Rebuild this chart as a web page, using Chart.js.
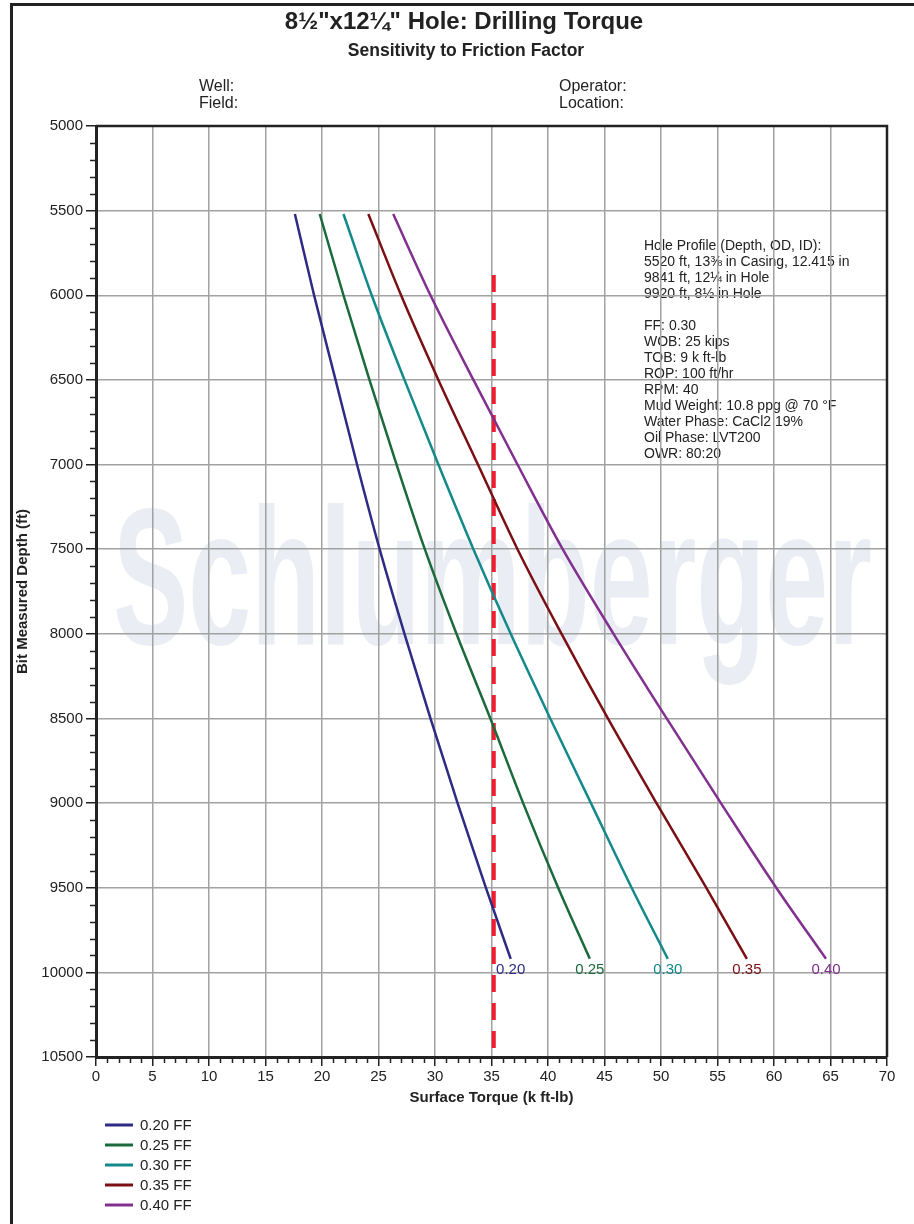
<!DOCTYPE html>
<html>
<head>
<meta charset="utf-8">
<title>8½"x12¼" Hole: Drilling Torque</title>
<script src="https://cdn.jsdelivr.net/npm/chart.js@4.4.1/dist/chart.umd.min.js"></script>
<style>
  html, body { margin: 0; padding: 0; background: #ffffff; }
  canvas { display: block; }
</style>
</head>
<body>
<canvas id="torqueChart" width="914" height="1224"></canvas>
<script>
// ---- Data: surface torque (k ft-lb) vs bit measured depth (ft) per friction factor ----
const depthFt      = [5520, 6000, 6500, 7000, 7500, 8000, 8500, 9000, 9500, 9920];
const torqueFF020  = [17.6, 19.3, 21.2, 23.1, 25.1, 27.3, 29.6, 32.0, 34.5, 36.7];
const torqueFF025  = [19.8, 21.9, 24.2, 26.6, 29.1, 31.9, 34.9, 37.8, 40.9, 43.7];
const torqueFF030  = [21.9, 24.4, 27.3, 30.3, 33.4, 36.7, 40.2, 43.8, 47.4, 50.6];
const torqueFF035  = [24.1, 27.0, 30.3, 33.8, 37.3, 41.2, 45.3, 49.6, 54.0, 57.6];
const torqueFF040  = [26.3, 29.6, 33.4, 37.3, 41.3, 45.8, 50.5, 55.3, 60.2, 64.6];

const frictionFactors = ['0.20', '0.25', '0.30', '0.35', '0.40'];
const seriesLabels    = ['0.20 FF', '0.25 FF', '0.30 FF', '0.35 FF', '0.40 FF'];

// Torque limit line (k ft-lb) and the depth range it covers (ft)
const torqueLimit      = 35.2;
const torqueLimitDepth = [5880, 10500];

// Axis ranges
const xRange = [0, 70];
const yRange = [5000, 10500];

// Text blocks
const titleText    = '8½"x12¼" Hole: Drilling Torque';
const subtitleText = 'Sensitivity to Friction Factor';
const headerLeft   = ['Well:', 'Field:'];
const headerRight  = ['Operator:', 'Location:'];
const notesText = [
  'Hole Profile (Depth, OD, ID):',
  '5520 ft, 13⅜ in Casing, 12.415 in',
  '9841 ft, 12¼ in Hole',
  '9920 ft, 8½ in Hole',
  '',
  'FF: 0.30',
  'WOB: 25 kips',
  'TOB: 9 k ft-lb',
  'ROP: 100 ft/hr',
  'RPM: 40',
  'Mud Weight: 10.8 ppg @ 70 °F',
  'Water Phase: CaCl2 19%',
  'Oil Phase: LVT200',
  'OWR: 80:20'
];
const watermarkText = 'Schlumberger';

// ---- Styles ----
const FONT = '"Liberation Sans", Arial, Helvetica, sans-serif';
const INK = '#222222';
const GRID = '#a2a2a2';
const seriesColors = ['#2d2b84', '#1b6a3b', '#13898b', '#7a1014', '#82308f'];
const limitColor = '#ee1d2f';

const torqueSeries = [torqueFF020, torqueFF025, torqueFF030, torqueFF035, torqueFF040];

const datasets = torqueSeries.map((vals, i) => ({
  label: seriesLabels[i],
  tag: frictionFactors[i],
  data: vals.map((t, k) => ({ x: t, y: depthFt[k] })),
  borderColor: seriesColors[i],
  backgroundColor: seriesColors[i],
  borderWidth: 2.5,
  pointRadius: 0,
  cubicInterpolationMode: 'monotone',
  fill: false
}));

datasets.push({
  label: '',
  isLimit: true,
  data: torqueLimitDepth.map(d => ({ x: torqueLimit, y: d })),
  borderColor: limitColor,
  borderWidth: 4,
  borderDash: [17, 11],
  pointRadius: 0,
  fill: false
});

// ---- Drawing helpers (page furniture, watermark, legend, minor ticks) ----
const pagePlugin = {
  id: 'pageDecor',
  beforeDraw(chart) {
    const { ctx } = chart;
    ctx.save();

    // Watermark behind the grid
    ctx.font = `bold 194px ${FONT}`;
    ctx.textBaseline = 'alphabetic';
    ctx.textAlign = 'left';
    const wm = ctx.measureText(watermarkText).width;
    ctx.translate(113, 644);
    ctx.scale(759 / wm, 1);
    ctx.fillStyle = '#eaedf3';
    ctx.fillText(watermarkText, 0, 0);
    ctx.restore();

    ctx.save();
    ctx.fillStyle = INK;
    ctx.textAlign = 'center';
    ctx.textBaseline = 'middle';
    ctx.font = `bold 24px ${FONT}`;
    ctx.fillText(titleText, 464, 22);
    ctx.font = `bold 17.5px ${FONT}`;
    ctx.fillText(subtitleText, 466, 51);

    ctx.textAlign = 'left';
    ctx.font = `16px ${FONT}`;
    headerLeft.forEach((t, i) => ctx.fillText(t, 199, 87 + i * 17));
    headerRight.forEach((t, i) => ctx.fillText(t, 559, 87 + i * 17));

    // Well / fluid notes inside the plot
    ctx.font = `14px ${FONT}`;
    notesText.forEach((t, i) => { if (t) ctx.fillText(t, 644, 246 + i * 16); });
    ctx.restore();
  },
  afterDatasetsDraw(chart) {
    const { ctx } = chart;
    ctx.save();
    ctx.font = `15px ${FONT}`;
    ctx.textAlign = 'center';
    ctx.textBaseline = 'top';
    chart.data.datasets.forEach((ds, i) => {
      if (ds.isLimit) return;
      const pts = chart.getDatasetMeta(i).data;
      const end = pts[pts.length - 1];
      ctx.fillStyle = ds.borderColor;
      ctx.fillText(ds.tag, end.x, end.y + 4);
    });
    ctx.restore();
  },
  afterDraw(chart) {
    const { ctx, chartArea: a, scales } = chart;
    ctx.save();

    // Plot frame (top and right edges)
    ctx.strokeStyle = INK;
    ctx.lineWidth = 2.5;
    ctx.beginPath();
    ctx.moveTo(a.left, a.top);
    ctx.lineTo(a.right, a.top);
    ctx.lineTo(a.right, a.bottom);
    ctx.stroke();

    // Minor tick marks
    ctx.lineWidth = 1.5;
    ctx.beginPath();
    for (let d = yRange[0]; d <= yRange[1]; d += 100) {
      if (d % 500 === 0) continue;
      const y = Math.round(scales.y.getPixelForValue(d)) + 0.5;
      ctx.moveTo(a.left - 6, y);
      ctx.lineTo(a.left, y);
    }
    for (let t = xRange[0]; t <= xRange[1]; t += 1) {
      if (t % 5 === 0) continue;
      const x = Math.round(scales.x.getPixelForValue(t)) + 0.5;
      ctx.moveTo(x, a.bottom);
      ctx.lineTo(x, a.bottom + 6);
    }
    ctx.stroke();

    // Page frame
    ctx.fillStyle = INK;
    ctx.fillRect(10, 3, 3, chart.height - 3);
    ctx.fillRect(10, 3, chart.width - 10, 3);

    // Legend
    ctx.font = `15px ${FONT}`;
    ctx.textAlign = 'left';
    ctx.textBaseline = 'middle';
    chart.data.datasets.forEach((ds, i) => {
      if (ds.isLimit) return;
      const y = 1125 + i * 20;
      ctx.strokeStyle = ds.borderColor;
      ctx.lineWidth = 3;
      ctx.beginPath();
      ctx.moveTo(105, y);
      ctx.lineTo(133, y);
      ctx.stroke();
      ctx.fillStyle = INK;
      ctx.fillText(ds.label, 140, y + 1);
    });
    ctx.restore();
  }
};

new Chart(document.getElementById('torqueChart'), {
  type: 'line',
  data: { datasets },
  plugins: [pagePlugin],
  options: {
    responsive: false,
    animation: false,
    devicePixelRatio: 1,
    layout: { padding: { top: 126, right: 27, bottom: 115, left: 0 } },
    plugins: {
      legend: { display: false },
      tooltip: { enabled: false }
    },
    scales: {
      x: {
        type: 'linear',
        min: xRange[0],
        max: xRange[1],
        afterFit(scale) { scale.height = 52; },
        ticks: {
          stepSize: 5,
          autoSkip: false,
          maxRotation: 0,
          padding: 2,
          color: INK,
          font: { family: FONT, size: 15 }
        },
        grid: {
          color: GRID,
          lineWidth: 1.5,
          tickLength: 9,
          tickColor: INK,
          tickWidth: 1.5
        },
        border: { color: INK, width: 3 },
        title: {
          display: true,
          text: 'Surface Torque (k ft-lb)',
          color: INK,
          font: { family: FONT, size: 15, weight: 'bold' },
          padding: { top: 0, bottom: 2 }
        }
      },
      y: {
        type: 'linear',
        reverse: true,
        min: yRange[0],
        max: yRange[1],
        afterFit(scale) { scale.width = 96; },
        ticks: {
          stepSize: 500,
          autoSkip: false,
          padding: 3,
          color: INK,
          font: { family: FONT, size: 15 },
          callback: v => String(v)
        },
        grid: {
          color: GRID,
          lineWidth: 1.5,
          tickLength: 10,
          tickColor: INK,
          tickWidth: 1.5
        },
        border: { color: INK, width: 3 },
        title: {
          display: true,
          text: 'Bit Measured Depth (ft)',
          color: INK,
          font: { family: FONT, size: 15, weight: 'bold' },
          padding: { top: 14, bottom: 0 }
        }
      }
    }
  }
});
</script>
</body>
</html>
